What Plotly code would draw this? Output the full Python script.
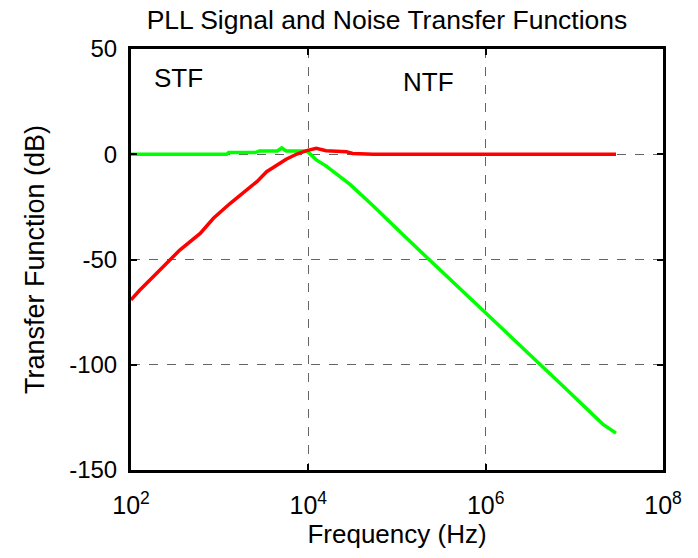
import plotly.graph_objects as go

# Red curve
red_freq = [100, 126, 178, 251, 355, 603, 851, 1318, 1698, 2630, 3388, 4365, 5623, 7413,
            9550, 12300, 15850, 26900, 31600, 53700, 2.95e7]
red_db = [-69.2, -64.5, -58.2, -51.8, -45.5, -37.6, -30.4, -23.3, -19.4, -13.0, -8.3, -5.1,
          -2.4, 0.1, 1.7, 2.8, 1.7, 1.2, 0.4, 0, 0]

# Green curve
green_freq = [100, 1200, 1260, 2510, 2820, 4470, 5010, 5620, 8910, 10000, 12300, 15800, 29500,
              53700, 126000, 275000, 977000, 2.88e6, 8.13e6, 2.09e7, 2.95e7]
green_db = [0, 0, 0.8, 0.8, 1.6, 1.6, 3.0, 1.6, 1.6, 1, -2.7, -5.5, -14.3,
            -24.5, -39.6, -53, -75.2, -93.4, -111.6, -128.2, -132.5]

x_tickvals = [1e2, 1e4, 1e6, 1e8]
x_ticktext = ["10<sup>2</sup>", "10<sup>4</sup>", "10<sup>6</sup>", "10<sup>8</sup>"]
y_tickvals = [50, 0, -50, -100, -150]
y_ticktext = ["50", "0", "-50", "-100", "-150"]

font = "Liberation Sans, Arial, sans-serif"

fig = go.Figure()
fig.add_trace(go.Scatter(x=green_freq, y=green_db, mode="lines",
                         line=dict(color="rgb(0,255,0)", width=3.5), showlegend=False))
fig.add_trace(go.Scatter(x=red_freq, y=red_db, mode="lines",
                         line=dict(color="rgb(255,0,0)", width=3.5), showlegend=False))

fig.add_annotation(x=2.54, y=36, xref="x", yref="y", text="STF", showarrow=False,
                   font=dict(family=font, size=26, color="black"))
fig.add_annotation(x=5.35, y=34.5, xref="x", yref="y", text="NTF", showarrow=False,
                   font=dict(family=font, size=26, color="black"))

fig.update_layout(
    width=698, height=558,
    margin=dict(l=131, r=35, t=49, b=88),
    paper_bgcolor="white", plot_bgcolor="white",
    title=dict(text="PLL Signal and Noise Transfer Functions", x=387 / 698, xanchor="center",
               y=1 - 20 / 558, yanchor="middle", font=dict(family=font, size=26.5, color="black")),
    font=dict(family=font, size=24, color="black"),
    xaxis=dict(type="log", range=[2, 8], tickvals=x_tickvals, ticktext=x_ticktext,
               showgrid=True, gridcolor="rgb(100,100,100)", griddash="dash", gridwidth=1,
               showline=True, linecolor="black", linewidth=3, mirror="ticks",
               ticks="inside", ticklen=6, tickwidth=2, tickcolor="black",
               zeroline=False, automargin=False, ticklabelstandoff=11,
               title=dict(text="Frequency (Hz)", font=dict(size=26), standoff=7),
               tickfont=dict(size=25)),
    yaxis=dict(range=[-150, 50], tickvals=y_tickvals, ticktext=y_ticktext,
               showgrid=True, gridcolor="rgb(100,100,100)", griddash="dash", gridwidth=1,
               showline=True, linecolor="black", linewidth=3, mirror="ticks",
               ticks="inside", ticklen=6, tickwidth=2, tickcolor="black",
               zeroline=False, automargin=False, ticklabelstandoff=6,
               title=dict(text="Transfer Function (dB)", font=dict(size=27), standoff=17),
               tickfont=dict(size=24)),
)

fig.write_html("out.html", config={"displayModeBar": False},
               post_script="document.body.style.margin='0';")
